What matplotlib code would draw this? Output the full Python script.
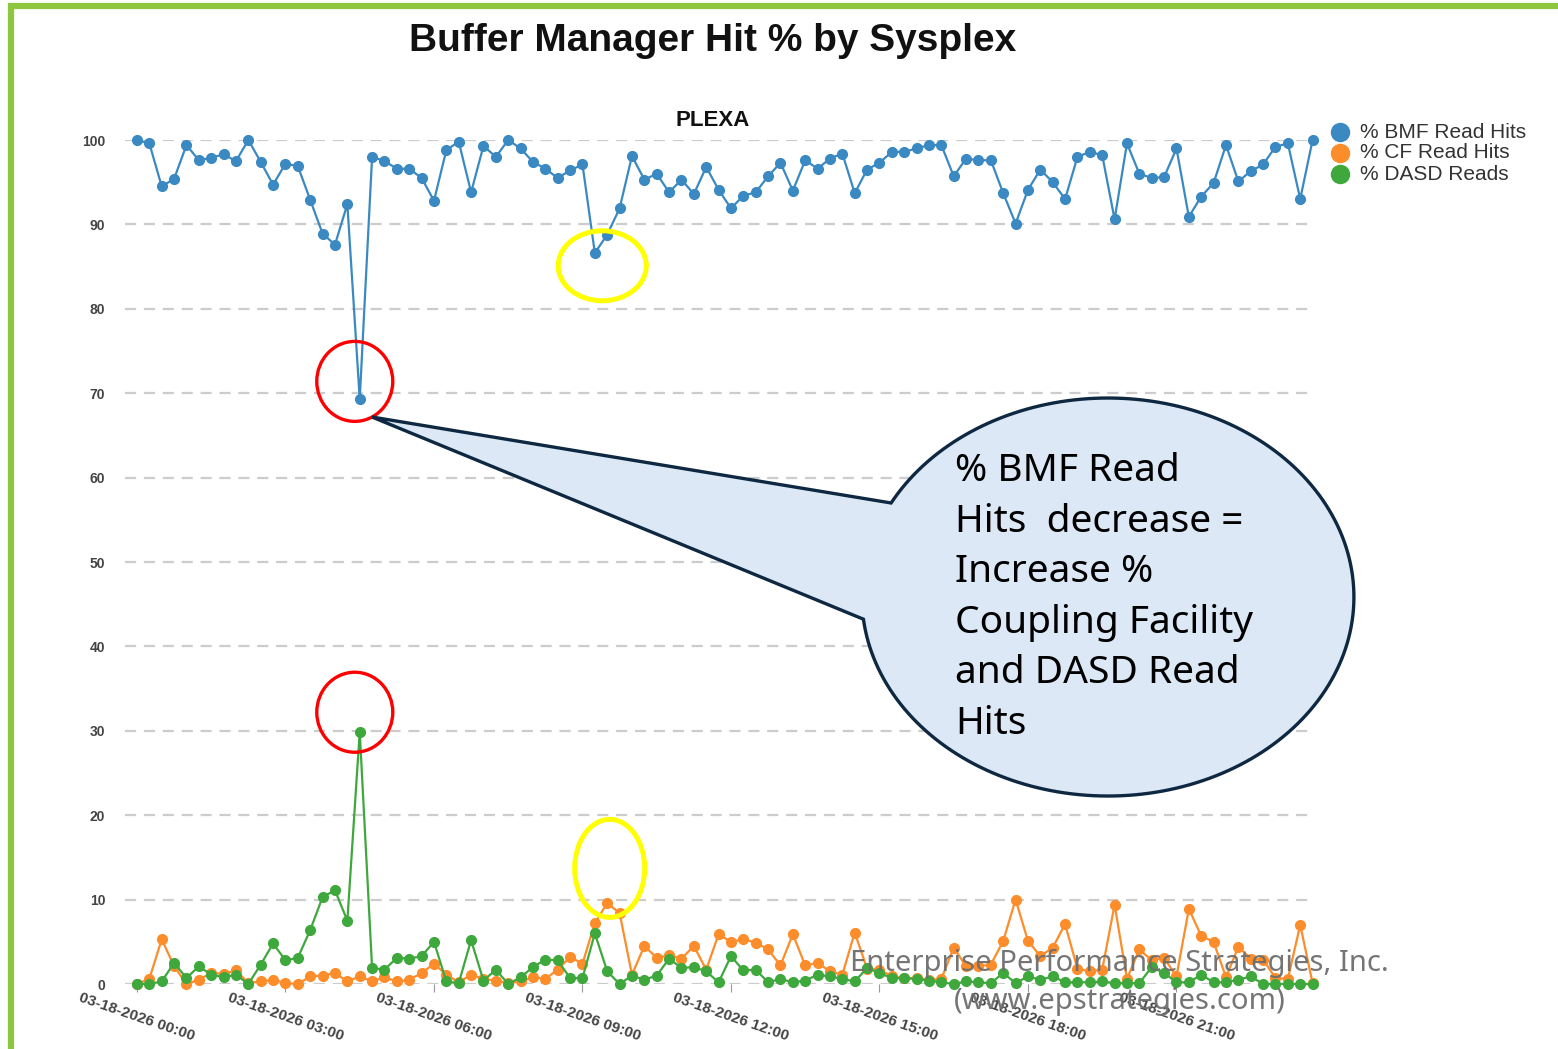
import numpy as np
import matplotlib
matplotlib.use("Agg")
import matplotlib.pyplot as plt
from matplotlib.patches import Ellipse, PathPatch, Rectangle
from matplotlib.path import Path
from matplotlib.lines import Line2D

plt.rcParams['font.family'] = ['Liberation Sans', 'DejaVu Sans']

# 15-minute samples, 03-18-2026 00:00 .. 23:45
tick_labels = ['03-18-2026 00:00', '03-18-2026 03:00', '03-18-2026 06:00', '03-18-2026 09:00',
               '03-18-2026 12:00', '03-18-2026 15:00', '03-18-2026 18:00', '03-18-2026 21:00']

bmf_hits = [100.0, 99.6, 94.5, 95.4, 99.4, 97.6, 97.9, 98.3, 97.5, 100.0, 97.4, 94.7,
            97.2, 96.9, 92.9, 88.9, 87.6, 92.4, 69.3, 98.0, 97.5, 96.6, 96.6, 95.5,
            92.8, 98.8, 99.8, 93.8, 99.3, 98.0, 100.0, 99.0, 97.4, 96.6, 95.5, 96.4,
            97.1, 86.6, 88.8, 91.9, 98.1, 95.3, 96.0, 93.8, 95.3, 93.6, 96.8, 94.1,
            91.9, 93.4, 93.8, 95.7, 97.3, 94.0, 97.6, 96.6, 97.8, 98.4, 93.7, 96.5,
            97.3, 98.6, 98.6, 99.0, 99.4, 99.4, 95.7, 97.8, 97.6, 97.6, 93.7, 90.1,
            94.1, 96.5, 95.0, 93.0, 98.0, 98.6, 98.2, 90.6, 99.6, 96.0, 95.5, 95.6,
            99.0, 90.9, 93.3, 94.9, 99.4, 95.1, 96.3, 97.1, 99.2, 99.6, 93.0, 100.0]

cf_hits = [0.0, 0.6, 5.3, 2.1, 0.0, 0.5, 1.3, 1.2, 1.6, 0.1, 0.3, 0.5,
           0.1, 0.0, 0.9, 1.0, 1.3, 0.3, 0.9, 0.3, 0.8, 0.3, 0.5, 1.3,
           2.4, 1.1, 0.2, 1.1, 0.6, 0.4, 0.1, 0.3, 0.8, 0.6, 1.7, 3.2,
           2.4, 7.2, 9.6, 8.4, 1.1, 4.5, 3.1, 3.4, 3.0, 4.5, 1.7, 5.9,
           5.0, 5.3, 4.9, 4.1, 2.2, 5.9, 2.2, 2.5, 1.5, 1.1, 6.1, 1.8,
           1.7, 0.9, 0.7, 0.7, 0.5, 0.6, 4.3, 2.1, 2.1, 2.3, 5.1, 10.0,
           5.1, 3.3, 4.3, 7.1, 1.8, 1.5, 1.7, 9.4, 0.6, 4.1, 2.8, 3.1,
           0.9, 8.9, 5.7, 5.0, 0.8, 4.4, 3.0, 2.9, 0.7, 0.6, 7.0, 0.1]

dasd_reads = [0.0, 0.0, 0.3, 2.5, 0.7, 2.1, 1.1, 0.8, 1.1, 0.0, 2.3, 4.8,
              2.8, 3.1, 6.4, 10.3, 11.1, 7.5, 29.9, 1.9, 1.7, 3.1, 3.0, 3.3,
              5.0, 0.3, 0.1, 5.2, 0.4, 1.7, 0.0, 0.8, 2.0, 2.9, 2.8, 0.7,
              0.7, 6.0, 1.5, 0.0, 1.0, 0.5, 1.0, 3.0, 1.9, 2.0, 1.5, 0.2,
              3.3, 1.6, 1.7, 0.2, 0.6, 0.2, 0.4, 1.1, 0.9, 0.6, 0.3, 1.9,
              1.3, 0.7, 0.7, 0.6, 0.4, 0.2, 0.0, 0.3, 0.2, 0.1, 1.3, 0.1,
              0.9, 0.5, 0.9, 0.2, 0.2, 0.2, 0.3, 0.1, 0.1, 0.1, 2.0, 1.3,
              0.2, 0.2, 1.1, 0.2, 0.2, 0.5, 0.9, 0.0, 0.0, 0.0, 0.0, 0.0]

series_names = ['% BMF Read Hits', '% CF Read Hits', '% DASD Reads']
colors = ['#3a89c2', '#fd8c2b', '#3fa83d']

W, H = 1558, 1049
fig = plt.figure(figsize=(W / 100, H / 100), dpi=100)
ax = fig.add_axes([124.6 / W, 1 - 984 / H, (1312.6 - 124.6) / W, (984 - 140) / H])

x = np.arange(len(bmf_hits))
for vals, c, name in zip([bmf_hits, cf_hits, dasd_reads], colors, series_names):
    ax.plot(x, vals, color=c, lw=1.6, marker='o', ms=7, mec=c, mfc=c,
            label=name, clip_on=False, zorder=3)

ax.set_xlim(-1, 95)
ax.set_ylim(0, 100)
ax.set_yticks(range(0, 101, 10))
ax.set_xticks(range(0, 96, 12))
ax.set_xticklabels(tick_labels, rotation=-19, ha='center', va='top',
                   fontsize=11, fontweight='bold', color='#444444')
ax.tick_params(axis='y', length=0, pad=14, labelsize=10, labelcolor='#444444')
for t in ax.get_yticklabels():
    t.set_fontweight('bold')
ax.tick_params(axis='x', length=6, color='#999999', pad=-1)
ax.grid(axis='y', color='#cccccc', lw=1.6, ls=(0, (5, 3.5)))
for s in ax.spines.values():
    s.set_visible(False)

# titles
fig.text(713 / W, 1 - 41 / H, 'Buffer Manager Hit % by Sysplex', ha='center', va='center',
         fontsize=28, fontweight='bold', color='#111111')
fig.text(713 / W, 1 - 120 / H, 'PLEXA', ha='center', va='center',
         fontsize=16, fontweight='bold', color='#111111')

# legend
for i, (c, name) in enumerate(zip(colors, series_names)):
    yy = 1 - (132 + 21 * i) / H
    fig.add_artist(Line2D([1340 / W], [yy], ls='none', marker='o', ms=13, color=c,
                          transform=fig.transFigure))
    fig.text(1360 / W, yy, name, ha='left', va='center', fontsize=15, color='#333333')

# highlight circles
px, py = 12.375, 8.44
ax.add_patch(Ellipse((17.6, 71.4), 76 / px, 80 / py, fill=False, ec='#ff0000', lw=2.4,
                     clip_on=False, zorder=5))
ax.add_patch(Ellipse((17.6, 32.2), 76 / px, 80 / py, fill=False, ec='#ff0000', lw=2.4,
                     clip_on=False, zorder=5))
ax.add_patch(Ellipse((37.6, 85.1), 88 / px, 70 / py, fill=False, ec='#ffff00', lw=3.6,
                     clip_on=False, zorder=5))
ax.add_patch(Ellipse((38.2, 13.7), 70 / px, 98 / py, fill=False, ec='#ffff00', lw=3.6,
                     clip_on=False, zorder=5))

# callout bubble with pointer
cx, cy, a, b = 78.46, 45.85, 246 / px, 199 / py
tip = (18.99, 67.18)
t1, t2 = np.radians(151.8), np.radians(186.4)
arc = np.linspace(t2, t1 + 2 * np.pi, 200)
verts = [(cx + a * np.cos(t1), cy + b * np.sin(t1)), tip]
verts += [(cx + a * np.cos(t), cy + b * np.sin(t)) for t in arc]
verts.append(verts[0])
codes = [Path.MOVETO] + [Path.LINETO] * (len(verts) - 2) + [Path.CLOSEPOLY]
ax.add_patch(PathPatch(Path(verts, codes), fc='#dce8f5', ec='#0e2841', lw=2.4,
                       clip_on=False, zorder=6, joinstyle='miter'))
ax.text(66.1, 45.8, '% BMF Read\nHits  decrease =\nIncrease %\nCoupling Facility\nand DASD Read\nHits',
        ha='left', va='center', fontsize=28, family='Noto Sans', color='#000000',
        linespacing=1.43, zorder=7)

# watermark
fig.text(1119 / W, 1 - 963 / H, 'Enterprise Performance Strategies, Inc.', ha='center', va='center',
         fontsize=21, family='Noto Sans', color='#6e6e6e', alpha=0.95, zorder=10)
fig.text(1120 / W, 1 - 1001 / H, '(www.epstrategies.com)', ha='center', va='center',
         fontsize=21, family='Noto Sans', color='#6e6e6e', alpha=0.95, zorder=10)

# green frame
fig.patches.append(Rectangle((11 / W, -0.1), 1.2, 1 - 6 / H + 0.1, transform=fig.transFigure,
                             fill=False, ec='#8dc63f', lw=4.5, zorder=0))

fig.savefig('out.png', dpi=100)
